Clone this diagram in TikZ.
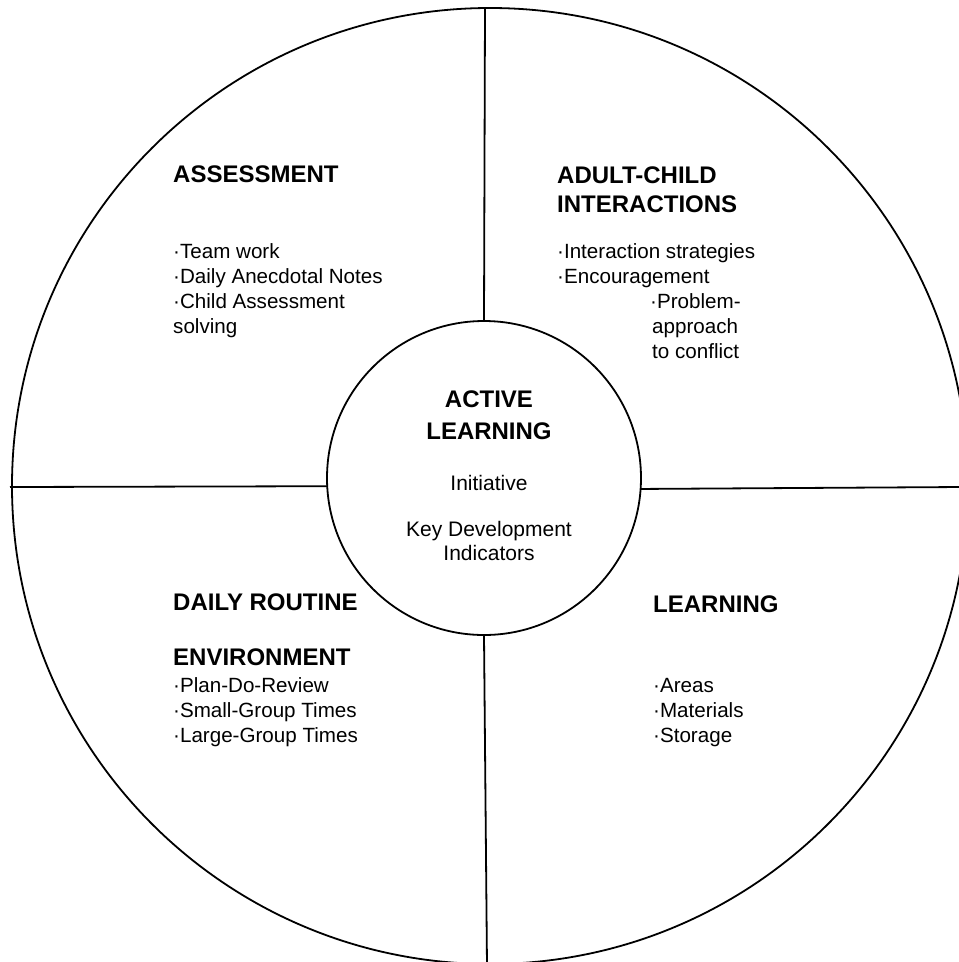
\documentclass[tikz,border=0pt]{standalone}
\usepackage{fontspec}
\setmainfont{Liberation Sans}
\begin{document}
\begin{tikzpicture}[x=1pt,y=-1pt,
  ring/.style={draw, circle, line width=1.8pt, inner sep=0pt, outer sep=0pt},
  divider/.style={line width=1.8pt},
  head/.style={font=\fontsize{24}{28.5}\selectfont\bfseries, inner sep=0pt, align=left, anchor=base west},
  headc/.style={font=\fontsize{24}{32}\selectfont\bfseries, inner sep=0pt, align=center, anchor=base},
  body/.style={font=\fontsize{20.6}{24.8}\selectfont, inner sep=0pt, align=left, anchor=base west},
  bodyc/.style={font=\fontsize{21}{24}\selectfont, inner sep=0pt, align=center, anchor=base},
  ]
\useasboundingbox (0,0) rectangle (959,962);
\begin{scope}
\clip (0,0) rectangle (959,962);
\node[ring, minimum size=956pt] (outer) at (490,486) {};
\node[ring, minimum size=314pt] (inner) at (484,478) {};
\coordinate (topend) at (485,8);
\coordinate (bottomend) at (487,966);
\coordinate (leftend) at (10,487);
\coordinate (rightend) at (962,487);
\draw[divider] (topend) -- (inner.north);
\draw[divider] (inner.south) -- (bottomend);
\draw[divider] (leftend) -- (inner.183.3);
\draw[divider] (inner.356.7) -- (rightend);
\end{scope}

% Assessment (multi-line nodes are anchored at the baseline of their last line)
\node[head] (assesshead) at (173,182) {ASSESSMENT};
\node[body] (assessbody) at (173,333) {·Team work\\·Daily Anecdotal Notes\\·Child Assessment\\solving};

% Adult-child interactions
\node[head] (adulthead) at (557,212) {ADULT-CHILD\\INTERACTIONS};
\node[body] (adultbody) at (557,283) {·Interaction strategies\\·Encouragement};
\node[body] (problembody) at (650,358) {·Problem-\\\hspace*{2pt}approach\\\hspace*{2pt}to conflict};

% Active learning
\node[headc] (activehead) at (489,439) {ACTIVE\\LEARNING};
\node[bodyc] (initiative) at (489,490) {Initiative};
\node[bodyc] (kdi) at (489,560) {Key Development\\Indicators};

% Daily routine
\node[head] (dailyhead) at (173,610) {DAILY ROUTINE};
\node[head] (envhead) at (173,665) {ENVIRONMENT};
\node[body] (dailybody) at (173,742) {·Plan-Do-Review\\·Small-Group Times\\·Large-Group Times};

% Learning
\node[head] (learnhead) at (653,612) {LEARNING};
\node[body] (learnbody) at (653,742) {·Areas\\·Materials\\·Storage};
\end{tikzpicture}
\end{document}
